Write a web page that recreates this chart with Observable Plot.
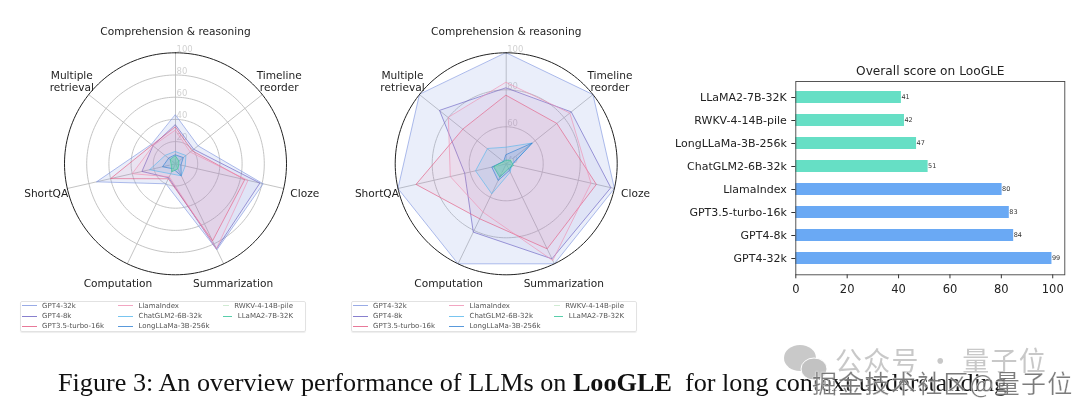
<!DOCTYPE html>
<html>
<head>
<meta charset="utf-8">
<script src="https://cdn.jsdelivr.net/npm/d3@7"></script>
<script src="https://cdn.jsdelivr.net/npm/@observablehq/plot@0.6"></script>
<style>
html,body{margin:0;padding:0;background:#fff;width:1080px;height:409px;overflow:hidden}
#page{position:relative;width:1080px;height:409px;overflow:hidden;font-family:"DejaVu Sans";filter:blur(0.3px)}
.slot{position:absolute;top:0}
.slot svg{overflow:visible;background:transparent;display:block}
.legend{position:absolute;top:300.5px;width:286px;height:31px;box-sizing:border-box;border:1px solid #e2e2e2;border-radius:2px;box-shadow:0 1px 1px #eee;
 display:grid;grid-auto-flow:column;grid-template-rows:repeat(3,10.4px);grid-template-columns:96.5px 105px 70px;padding:0 0 0 1px;font-size:7px;color:#555;align-content:center}
.legend div{display:flex;align-items:center;white-space:nowrap}
.legend i{display:inline-block;width:15px;height:1px;margin-right:5.5px}
#caption{position:absolute;left:58px;top:368px;font:26.2px "Liberation Serif";color:#111;white-space:pre}
#wm1{position:absolute;left:835px;top:340px;font:27px "Noto Sans CJK SC";letter-spacing:1.2px;color:rgba(170,170,170,.65);white-space:pre}
#wm2{position:absolute;left:812px;top:364px;font:25px "Noto Sans CJK SC";letter-spacing:1.3px;color:rgba(80,80,80,.75);white-space:pre;-webkit-text-stroke:0.2px #fff;text-shadow:0 0 2px #fff}
#wmicon{position:absolute;left:780px;top:345px}
</style>
</head>
<body>
<div id="page"></div>
<script>
const axesLabels = ["Comprehension & reasoning", "Timeline\nreorder", "Cloze", "Summarization", "Computation", "ShortQA", "Multiple\nretrieval"];
const models = ["GPT4-32k", "GPT4-8k", "GPT3.5-turbo-16k", "LlamaIndex", "ChatGLM2-6B-32k", "LongLLaMa-3B-256k", "RWKV-4-14B-pile", "LLaMA2-7B-32K"];
const modelColors = ["#7f96e0", "#6a60c2", "#e2587f", "#ef8fb2", "#58b6ec", "#2f80d2", "#c4e6c8", "#2fc296"];
const modelFill = [0.16, 0.07, 0.08, 0.08, 0.14, 0.14, 0.22, 0.3];

// Left radar, radial scale 0..100, per model, axis order as axesLabels
const left32k   = [44, 26, 81, 86, 20, 73, 28];
const left8k    = [35, 21, 78, 85, 14, 31, 26];
const left35    = [33, 19, 64, 77, 15, 60, 27];
const leftLlama = [30, 17, 67, 85, 13, 40, 26];
const leftGLM   = [11, 12,  9, 12, 10, 24, 12];
const leftLong  = [ 8,  9,  5, 12,  5, 12,  8];
const leftRWKV  = [ 6,  3,  3,  5,  6,  5,  5];
const leftLLaMA = [ 7,  4,  3,  5,  8,  4,  6];

// Right radar, radial scale 40..100
const right32k   = [100, 100, 100, 100, 100, 100, 100];
const right8k    = [ 81,  85,  98,  97,  81,  63,  86];
const right35    = [ 77,  75,  90,  91,  73,  90,  70];
const rightLlama = [ 84,  84,  87,  98,  69,  71,  80];
const rightGLM   = [ 49,  58,  43,  45,  58,  57,  53];
const rightLong  = [ 45,  58,  43,  44,  50,  48,  42];
const rightRWKV  = [ 41,  44,  43,  42,  46,  46,  41];
const rightLLaMA = [ 42,  43,  44,  43,  48,  47,  42];

const leftTicks = [20, 40, 60, 80, 100];
const rightTicks = [40, 60, 80, 100];

// Bar chart: drawn lengths, printed labels as shown beside them
const barNames = ["LLaMA2-7B-32K", "RWKV-4-14B-pile", "LongLLaMa-3B-256k", "ChatGLM2-6B-32k", "LlamaIndex", "GPT3.5-turbo-16k", "GPT4-8k", "GPT4-32k"];
const barValues = [41.1, 42.3, 47, 51.5, 80.3, 83.1, 84.8, 99.7];
const barPrinted = [41, 42, 47, 51, 80, 83, 84, 99];
const barColors = ["#66dfc5", "#66dfc5", "#66dfc5", "#66dfc5", "#6aa9f4", "#6aa9f4", "#6aa9f4", "#6aa9f4"];
const barTicks = [0, 20, 40, 60, 80, 100];

const page = document.getElementById("page");
const W = 340, H = 300, R = 111;

function radar(cx, series, rMin, ticks) {
  const ang = i => i * 2 * Math.PI / axesLabels.length;
  const norm = v => (v - rMin) / (100 - rMin);
  const pt = (v, i) => ({x: norm(v) * Math.sin(ang(i)), y: norm(v) * Math.cos(ang(i))});
  const circle = (r) => d3.range(0, 181).map(k => ({x: r * Math.sin(k * Math.PI / 90), y: r * Math.cos(k * Math.PI / 90)}));
  const gridTicks = ticks.filter(t => t !== rMin && t !== 100);
  const marks = [];
  for (const t of gridTicks) marks.push(Plot.line(circle(norm(t)), {x: "x", y: "y", stroke: "#bdbdbd", strokeWidth: 0.9}));
  marks.push(Plot.link(axesLabels, {x1: 0, y1: 0, x2: (d, i) => Math.sin(ang(i)), y2: (d, i) => Math.cos(ang(i)), stroke: "#bdbdbd", strokeWidth: 0.9}));
  marks.push(Plot.text(ticks, {x: 0, y: d => norm(d), text: d => String(d), fill: "#d2d2d2", fontSize: 8.5, textAnchor: "start", dx: 1, dy: -4}));
  series.forEach((vals, s) => {
    marks.push(Plot.line(vals.map(pt), {x: "x", y: "y", curve: "linear-closed", stroke: modelColors[s], strokeWidth: 0.75, strokeOpacity: 0.85, fill: modelColors[s], fillOpacity: modelFill[s]}));
  });
  marks.push(Plot.line(circle(1), {x: "x", y: "y", stroke: "#222", strokeWidth: 1}));
  marks.push(Plot.text(axesLabels, {x: (d, i) => 1.195 * Math.sin(ang(i)), y: (d, i) => 1.195 * Math.cos(ang(i)), text: d => d, fill: "#222", fontSize: 10.6, lineHeight: 1.12, textAnchor: "middle", fontFamily: "DejaVu Sans"}));
  return Plot.plot({
    width: W, height: H, margin: 0,
    x: {domain: [-1, 1], range: [cx - R, cx + R], axis: null},
    y: {domain: [-1, 1], range: [163.3 + R, 163.3 - R], axis: null},
    style: {background: "transparent", fontFamily: "DejaVu Sans"},
    marks
  });
}

function slot(left, node) {
  const d = document.createElement("div");
  d.className = "slot"; d.style.left = left + "px"; d.appendChild(node); page.appendChild(d);
}

slot(0, radar(175, [left32k, left8k, left35, leftLlama, leftGLM, leftLong, leftRWKV, leftLLaMA], 0, leftTicks));
slot(340, radar(165.7, [right32k, right8k, right35, rightLlama, rightGLM, rightLong, rightRWKV, rightLLaMA], 40, rightTicks));

const barPlot = Plot.plot({
  width: 420, height: 250, marginLeft: 135.3, marginRight: 15.7, marginTop: 31, marginBottom: 25.7,
  style: {background: "transparent", fontFamily: "DejaVu Sans", color: "#222"},
  x: {domain: [0, 104.7], ticks: barTicks, tickFormat: d => String(d), label: null},
  y: {domain: barNames, paddingInner: 0.5, paddingOuter: 0.37, label: null},
  marks: [
    Plot.barX(barNames, {x: (d, i) => barValues[i], y: d => d, fill: (d, i) => barColors[i]}),
    Plot.text(barNames, {x: (d, i) => barValues[i], y: d => d, text: (d, i) => String(barPrinted[i]), textAnchor: "start", fontSize: 6.5, fill: "#333", dy: -0.5}),
    Plot.axisX({ticks: barTicks, tickSize: 4, tickPadding: 6, fontSize: 11.5, stroke: "#333", label: null, tickFormat: d => String(d)}),
    Plot.axisY({tickSize: 4, tickPadding: 5, fontSize: 11, stroke: "#333", label: null}),
    Plot.frame({stroke: "#444", strokeWidth: 0.9}),
    Plot.text(["Overall score on LooGLE"], {frameAnchor: "top", dy: -15, fontSize: 12.2, fill: "#222"})
  ]
});
slot(660, barPlot);
barPlot.parentNode.style.top = "50px";

function legend(left) {
  const box = document.createElement("div");
  box.className = "legend"; box.style.left = left + "px";
  models.forEach((m, i) => {
    const row = document.createElement("div");
    const sw = document.createElement("i");
    sw.style.background = modelColors[i]; sw.style.opacity = 0.8;
    row.appendChild(sw); row.appendChild(document.createTextNode(m));
    box.appendChild(row);
  });
  page.appendChild(box);
}
legend(19.5); legend(350.5);

page.insertAdjacentHTML("beforeend", `
<div id="caption">Figure 3: An overview performance of LLMs on <b>LooGLE</b>  for long context understanding</div>
<svg id="wmicon" width="50" height="36"><ellipse cx="20" cy="13" rx="16" ry="13" fill="#c9c9c9"/><ellipse cx="34" cy="24" rx="13" ry="11" fill="#c2c2c2" stroke="#fff"/></svg>
<div id="wm1">公众号 · 量子位</div>
<div id="wm2">掘金技术社区@量子位</div>`);
</script>
</body>
</html>
